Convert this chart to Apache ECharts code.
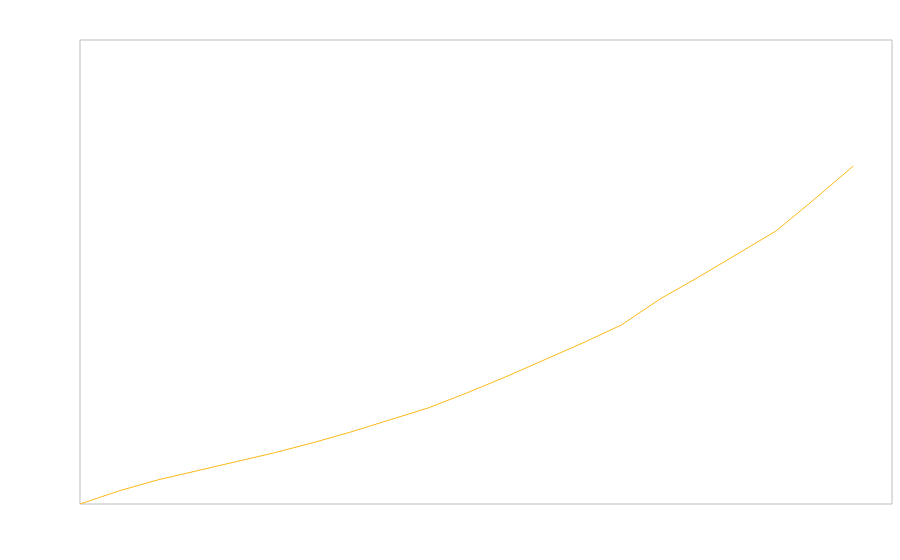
<!DOCTYPE html>
<html>
<head>
<meta charset="utf-8">
<script src="https://cdn.jsdelivr.net/npm/echarts@6/dist/echarts.min.js"></script>
<style>
html,body{margin:0;padding:0;background:#fff;}
#chart{width:900px;height:560px;}
</style>
</head>
<body>
<div id="chart"></div>
<script>
var categories = ['1','2','3','4','5','6','7','8','9','10','11','12','13','14','15','16','17','18','19','20','21','22'];
var values = [0, 13, 24, 33, 42, 51, 61, 72, 84, 96, 111, 127, 144, 161, 179, 205, 227, 250, 273, 305, 338, null];
var yMin = 0;
var yMax = 464;

var chart = echarts.init(document.getElementById('chart'), null, {renderer: 'canvas'});
chart.setOption({
  animation: false,
  backgroundColor: '#ffffff',
  grid: {left: 80, top: 40, right: 8, bottom: 56, show: true, borderColor: '#bdbdbd', borderWidth: 1, backgroundColor: 'transparent'},
  xAxis: {
    type: 'category', data: categories, boundaryGap: false,
    axisLine: {show: false}, axisTick: {show: false}, axisLabel: {show: false}, splitLine: {show: false}
  },
  yAxis: {
    type: 'value', min: yMin, max: yMax,
    axisLine: {show: false}, axisTick: {show: false}, axisLabel: {show: false}, splitLine: {show: false}
  },
  series: [{
    type: 'line', data: values, showSymbol: false, symbol: 'none',
    lineStyle: {color: '#fbb917', width: 1},
    itemStyle: {color: '#fbb917'}
  }]
});
</script>
</body>
</html>
